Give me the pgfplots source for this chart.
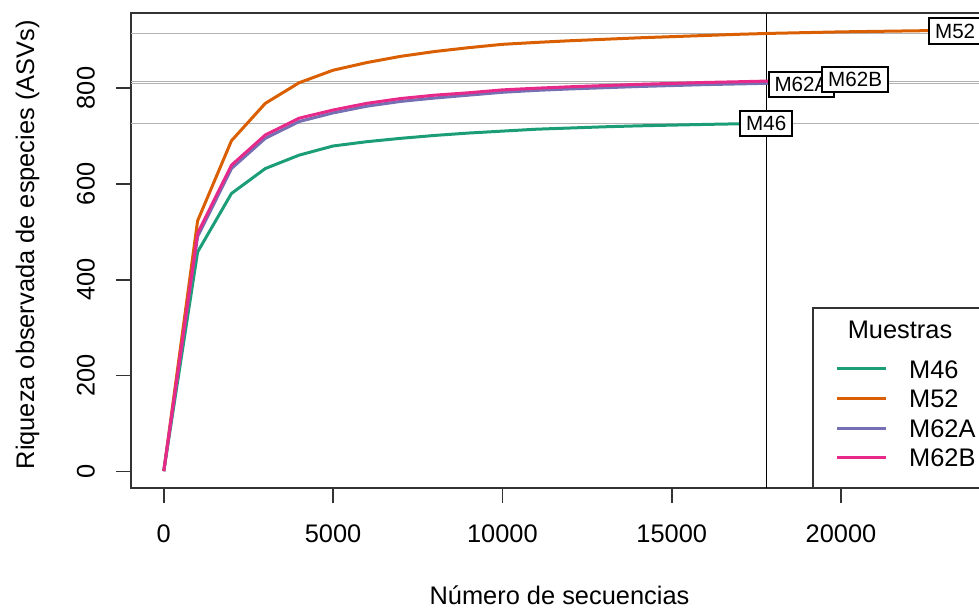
\documentclass[border=0pt]{standalone}
\usepackage{pgfplots}
\pgfplotsset{compat=1.18}
\usepackage{fontspec}
\setmainfont{Liberation Sans}
\definecolor{dkA}{HTML}{1B9E77}
\definecolor{dkB}{HTML}{D95F02}
\definecolor{dkC}{HTML}{7570B3}
\definecolor{dkD}{HTML}{E7298A}
\newcommand{\fs}{\fontsize{12.7}{15.2}\selectfont}
\begin{document}
\begin{tikzpicture}
\begin{axis}[
  at={(65.5pt,60pt)}, anchor=south west,
  scale only axis, width=428.5pt, height=237.5pt,
  xmin=-967, xmax=24340, ymin=-34.2, ymax=956.4,
  xtick={0,5000,10000,15000,20000},
  ytick={0,200,400,600,800},
  tick pos=left,
  scaled x ticks=false, scaled y ticks=false,
  /pgf/number format/assume math mode=true,
  /pgf/number format/1000 sep={},
  tick align=outside, major tick length=7.5pt,
  every tick/.style={black!80, line width=0.8pt},
  axis line style={black!80, line width=0.8pt},
  tick label style={font=\fs},
  xticklabel style={anchor=center, yshift=-15.5pt},
  yticklabel style={xshift=-15pt, rotate=90, anchor=center},
  xlabel={Número de secuencias},
  ylabel={Riqueza observada de especies (ASVs)},
  label style={font=\fs},
  xlabel style={at={(axis description cs:0.5,-0.2253)}, anchor=center},
  ylabel style={at={(axis description cs:-0.1208,0.512)}, anchor=center, rotate=0},
  legend style={draw=none, fill=none, inner sep=0pt, outer sep=0pt,
    at={(rel axis cs:0.8223,0.2699)}, anchor=north west,
    row sep=5.58pt, font=\fs,
    nodes={inner sep=0pt, text height=9.2pt, text depth=0pt}},
  legend cell align=left,
  legend image code/.code={\draw[#1] (0pt,0pt) -- (24.5pt,0pt); \path[draw=none, fill=none] (0pt,0pt) rectangle (36pt,0pt);},
]
% reference lines (rarecurve sample size and rarefied richness)
\addplot[forget plot, black, line width=0.9pt] coordinates {(17800,-34.2) (17800,956.4)};
\addplot[forget plot, gray!60, line width=0.5pt] coordinates {(-967,913.6) (24340,913.6)};
\addplot[forget plot, gray!60, line width=0.5pt] coordinates {(-967,814.3) (24340,814.3)};
\addplot[forget plot, gray!60, line width=0.5pt] coordinates {(-967,809.8) (24340,809.8)};
\addplot[forget plot, gray!60, line width=0.5pt] coordinates {(-967,726.3) (24340,726.3)};
% M46
\addplot[dkA, line width=1.5pt] coordinates {(1,1) (1000,458) (2000,580) (3000,632) (4000,660) (5000,679) (6000,688) (7000,695) (8000,701) (9000,706) (10000,710) (11000,714) (12000,716.5) (13000,719) (14000,721) (15000,722.5) (16000,724) (17000,725.3) (17790,726.3)};
\addlegendentry{M46}
% M52
\addplot[dkB, line width=1.5pt] coordinates {(1,1) (1000,523) (2000,690) (3000,768) (4000,811) (5000,837) (6000,853) (7000,866) (8000,876) (9000,884) (10000,891) (11000,895) (12000,898.5) (13000,901.5) (14000,904.5) (15000,907) (16000,909.5) (17000,912) (18000,914) (19000,915.5) (20000,917) (21000,918) (22000,919) (23000,920) (23370,920.5)};
\addlegendentry{M52}
% M62A
\addplot[dkC, line width=1.5pt] coordinates {(1,1) (1000,490) (2000,632) (3000,695) (4000,730) (5000,748) (6000,762) (7000,772) (8000,779) (9000,785) (10000,791) (11000,795) (12000,798) (13000,800.5) (14000,803) (15000,805) (16000,807) (17000,808.5) (18000,810) (18830,810.5)};
\addlegendentry{M62A}
% M62B
\addplot[dkD, line width=1.5pt] coordinates {(1,1) (1000,497) (2000,639) (3000,702) (4000,737) (5000,754) (6000,768) (7000,778) (8000,785) (9000,790) (10000,796) (11000,799.5) (12000,802.5) (13000,805) (14000,807.5) (15000,809.5) (16000,811.5) (17000,813) (18000,814.7) (19000,816) (20000,817) (20415,817.5)};
\addlegendentry{M62B}
% end labels
\tikzset{lbl/.style={draw=black, line width=1pt, fill=white, inner xsep=3pt, inner ysep=2.6pt, text height=7.4pt, text depth=0pt, font=\fontsize{10.3}{12}\selectfont}}
\node[lbl] at (axis cs:17790,726.3) {M46};
\node[lbl] at (axis cs:18830,808) {M62A};
\node[lbl] at (axis cs:20415,817.7) {M62B};
\node[lbl] at (axis cs:23370,919) {M52};
% legend frame and title
\draw[black!80, line width=0.8pt] (rel axis cs:0.7958,0) rectangle (rel axis cs:1,0.3789);
\node[font=\fs, inner sep=0pt, anchor=center] at (rel axis cs:0.8973,0.3326) {Muestras};
\end{axis}
\pgfresetboundingbox
\path[use as bounding box] (0,0) rectangle (489.5pt,304pt);
\end{tikzpicture}
\end{document}
